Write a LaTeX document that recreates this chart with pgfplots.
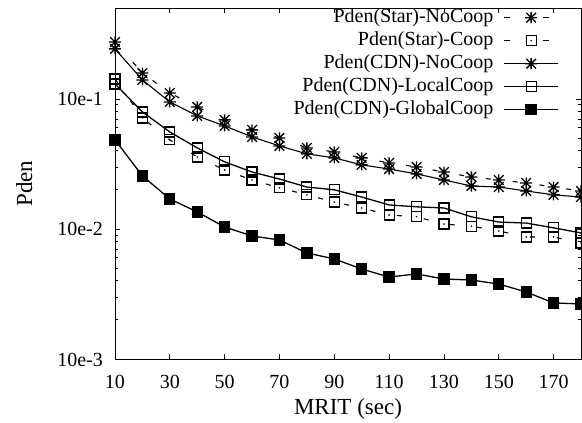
\documentclass[border=0pt]{standalone}
\usepackage{fontspec}
\setmainfont{Liberation Serif}
\usepackage{pgfplots}
\pgfplotsset{compat=1.18}

% gnuplot-like "*" point: a plus overlaid with a cross
\pgfdeclareplotmark{gstar}{%
  \pgfpathmoveto{\pgfqpoint{-\pgfplotmarksize}{0pt}}%
  \pgfpathlineto{\pgfqpoint{\pgfplotmarksize}{0pt}}%
  \pgfpathmoveto{\pgfqpoint{0pt}{-0.92\pgfplotmarksize}}%
  \pgfpathlineto{\pgfqpoint{0pt}{0.92\pgfplotmarksize}}%
  \pgfpathmoveto{\pgfqpoint{-0.8\pgfplotmarksize}{-0.8\pgfplotmarksize}}%
  \pgfpathlineto{\pgfqpoint{0.8\pgfplotmarksize}{0.8\pgfplotmarksize}}%
  \pgfpathmoveto{\pgfqpoint{-0.8\pgfplotmarksize}{0.8\pgfplotmarksize}}%
  \pgfpathlineto{\pgfqpoint{0.8\pgfplotmarksize}{-0.8\pgfplotmarksize}}%
  \pgfusepathqstroke}
% open square with a dot at the data point
\pgfdeclareplotmark{gsqdot}{%
  \pgfpathrectangle{\pgfqpoint{-\pgfplotmarksize}{-\pgfplotmarksize}}%
    {\pgfqpoint{2\pgfplotmarksize}{2\pgfplotmarksize}}%
  \pgfusepathqstroke
  \pgfpathcircle{\pgfpointorigin}{0.9pt}%
  \pgfusepathqfill}

\begin{document}
\begin{tikzpicture}
\begin{axis}[
  at={(0,0)}, anchor=south west,
  scale only axis, width=466pt, height=351pt,
  ymode=log,
  xmin=10, xmax=180, ymin=1e-3, ymax=0.5,
  xtick={10,30,...,170},
  ytick={1e-3,1e-2,1e-1},
  yticklabels={10e-3,10e-2,10e-1},
  /pgf/number format/assume math mode=true,
  axis line style={line width=0.9pt},
  every tick/.style={black, line width=0.8pt},
  major tick length=5pt, minor tick length=3pt,
  tick label style={font=\fontsize{20}{24}\selectfont},
  xticklabel style={anchor=base, inner sep=0pt, yshift=-29pt},
  yticklabel style={anchor=base east, inner sep=0pt, xshift=-12pt, yshift=-7pt},
  label style={font=\fontsize{23}{27}\selectfont},
  xlabel={MRIT (sec)},
  ylabel={Pden},
  xlabel style={at={(axis description cs:0.5,-0.1595)}, anchor=base},
  ylabel style={at={(axis description cs:-0.178,0.5)}, anchor=base},
  legend style={draw=none, fill=none, inner sep=0pt,
    at={(axis description cs:1,1)}, anchor=north east,
    xshift=-22pt, yshift=2pt,
    font=\fontsize{20}{24}\selectfont, row sep=0pt, column sep=8pt,
    nodes={inner sep=2pt, text height=14pt, text depth=5pt}},
  legend cell align=right,
  legend plot pos=right,
  legend image code/.code={%
    \draw[mark repeat=2,mark phase=2] plot coordinates {(0pt,0pt) (27pt,0pt) (54pt,0pt)};},
]

% Star topology, no cooperation
\addplot[black, line width=1.1pt, dash pattern=on 5pt off 22pt,
  mark=gstar, mark size=6pt, mark options={solid, line width=1.3pt},
  legend image code/.code={%
    \draw[dash pattern=on 6pt off 33pt on 6pt off 20pt] (0pt,0pt) -- (45pt,0pt);
    \draw[solid] plot[mark=gstar] coordinates {(27pt,0pt)};
    \path (54pt,0pt);}]
coordinates {
(10,0.274) (20,0.158) (30,0.111) (40,0.0868) (50,0.069) (60,0.0578)
(70,0.0501) (80,0.042) (90,0.0391) (100,0.0352) (110,0.0322) (120,0.030)
(130,0.0274) (140,0.0251) (150,0.0238) (160,0.0226) (170,0.021) (180,0.0196)
};
\addlegendentry{Pden(Star)-NoCoop}

% Star topology, cooperation
\addplot[black, line width=1.1pt, dash pattern=on 5pt off 22pt,
  mark=gsqdot, mark size=5pt, mark options={solid, line width=1.2pt},
  legend image code/.code={%
    \draw[dash pattern=on 6pt off 33pt on 6pt off 20pt] (0pt,0pt) -- (45pt,0pt);
    \draw[solid] plot[mark=gsqdot] coordinates {(27pt,0pt)};
    \path (54pt,0pt);}]
coordinates {
(10,0.1425) (20,0.0714) (30,0.0484) (40,0.0358) (50,0.0284) (60,0.0238)
(70,0.0207) (80,0.0183) (90,0.0161) (100,0.0145) (110,0.0128) (120,0.0124)
(130,0.0109) (140,0.0105) (150,0.00965) (160,0.00868) (170,0.00868) (180,0.00781)
};
\addlegendentry{Pden(Star)-Coop}

% CDN, no cooperation
\addplot[black, line width=1.1pt, mark=gstar, mark size=6pt,
  mark options={line width=1.3pt}]
coordinates {
(10,0.2424) (20,0.14) (30,0.0948) (40,0.074) (50,0.062) (60,0.051)
(70,0.0435) (80,0.0378) (90,0.0352) (100,0.0311) (110,0.0289) (120,0.0265)
(130,0.0238) (140,0.0214) (150,0.021) (160,0.0196) (170,0.0183) (180,0.0176)
};
\addlegendentry{Pden(CDN)-NoCoop}

% CDN, local cooperation
\addplot[black, line width=1.3pt, mark=square, mark size=5pt,
  mark options={line width=1.2pt}]
coordinates {
(10,0.1304) (20,0.0794) (30,0.0557) (40,0.042) (50,0.0328) (60,0.0274)
(70,0.0242) (80,0.021) (90,0.020) (100,0.0176) (110,0.0153) (120,0.0148)
(130,0.0145) (140,0.0124) (150,0.0113) (160,0.0111) (170,0.0102) (180,0.00932)
};
\addlegendentry{Pden(CDN)-LocalCoop}

% CDN, global cooperation
\addplot[black, line width=1.3pt, mark=square*, mark size=5pt, mark options={fill=black}]
coordinates {
(10,0.0484) (20,0.0256) (30,0.017) (40,0.01352) (50,0.01035) (60,0.00883)
(70,0.00823) (80,0.00654) (90,0.00588) (100,0.00492) (110,0.00427) (120,0.00451)
(130,0.00412) (140,0.00405) (150,0.00377) (160,0.00328) (170,0.0027) (180,0.00265)
};
\addlegendentry{Pden(CDN)-GlobalCoop}
\end{axis}
\pgfresetboundingbox
\useasboundingbox (-115pt,-64pt) rectangle (467pt,359pt);
\end{tikzpicture}
\end{document}
